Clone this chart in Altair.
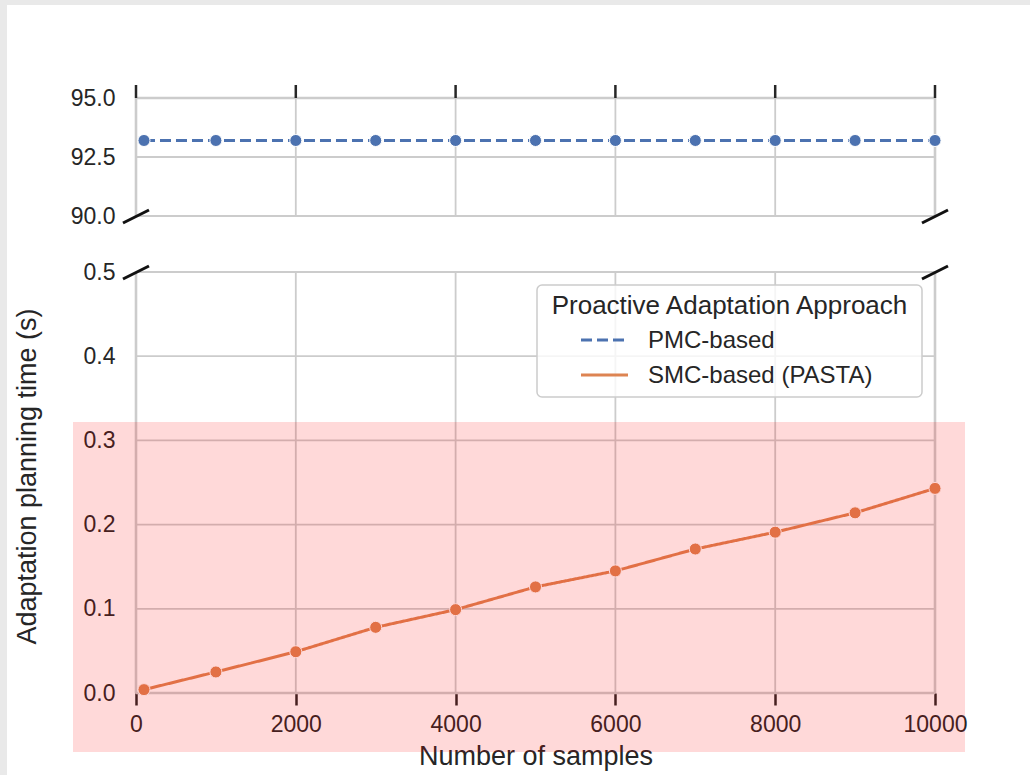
import altair as alt
import pandas as pd

# ---------------- data ----------------
samples = [100, 1000, 2000, 3000, 4000, 5000, 6000, 7000, 8000, 9000, 10000]
pmc_time = [93.2, 93.2, 93.2, 93.2, 93.2, 93.2, 93.2, 93.2, 93.2, 93.2, 93.2]
smc_time = [0.004, 0.025, 0.049, 0.078, 0.099, 0.126, 0.145, 0.171, 0.191, 0.214, 0.243]
series = ["PMC-based", "SMC-based (PASTA)"]
colors = ["#4c72b0", "#dd8452"]
x_ticks = [0, 2000, 4000, 6000, 8000, 10000]
y_ticks_low = [0.0, 0.1, 0.2, 0.3, 0.4, 0.5]
y_ticks_high = [90.0, 92.5, 95.0]
legend_title = "Proactive Adaptation Approach"
x_title = "Number of samples"
y_title = "Adaptation planning time (s)"

# ---------------- layout ----------------
W, H = 799, 595
L, T = 136, 98
FONT = "Liberation Sans"
TXT = "#262626"
GRID = "#cccccc"

xs = alt.Scale(domain=[0, 10000], nice=False, zero=False)
ys = alt.Scale(domain=[0, 0.5, 90, 95], range=[595, 174, 118, 0], nice=False, zero=False)

x_axis = alt.Axis(values=x_ticks, format="d", title=x_title, grid=False, domain=False,
                  ticks=True, tickSize=12, tickWidth=2.5, tickColor=TXT,
                  labelFontSize=23, labelColor=TXT, labelFont=FONT, labelPadding=8,
                  labelFlush=False, labelOverlap=False,
                  titleFontSize=27, titleFont=FONT, titleColor=TXT, titleFontWeight="normal",
                  titleY=71, titleBaseline="alphabetic")
y_axis = alt.Axis(values=y_ticks_low + y_ticks_high, format=".1f", title=y_title,
                  grid=False, domain=False, ticks=False,
                  labelFontSize=23, labelColor=TXT, labelFont=FONT, labelPadding=21,
                  labelOverlap=False, labelFlush=False,
                  titleFontSize=27, titleFont=FONT, titleColor=TXT, titleFontWeight="normal",
                  titleX=-101, titleY=378, titleBaseline="alphabetic", titleAlign="center",
                  titleAngle=270)


def X(field="x"):
    return alt.X(f"{field}:Q", scale=xs, axis=x_axis)


def Y(field="y"):
    return alt.Y(f"{field}:Q", scale=ys, axis=y_axis)


rows = []
for s, vals in zip(series, [pmc_time, smc_time]):
    for xv, yv in zip(samples, vals):
        rows.append({"x": xv, "y": yv, "series": s})
df = pd.DataFrame(rows)

one = pd.DataFrame({"k": [0]})

# gray page edges
edge_left = alt.Chart(one).mark_rect(color="#e9e9e9").encode(
    x=alt.value(-L), x2=alt.value(-L + 7), y=alt.value(-T), y2=alt.value(H + 82))
edge_top = alt.Chart(one).mark_rect(color="#e9e9e9").encode(
    x=alt.value(-L), x2=alt.value(W + 95), y=alt.value(-T), y2=alt.value(-T + 5))

# gridlines
grid_h_df = pd.DataFrame({"y": y_ticks_low + y_ticks_high})
grid_h_df["x"] = 0
grid_h_df["x2"] = 10000
grid_h = alt.Chart(grid_h_df).mark_rule(color=GRID, strokeWidth=1.8).encode(
    x=X(), x2="x2:Q", y=Y())

panels = [(0.0, 0.5), (90.0, 95.0)]
gv = []
for xv in x_ticks:
    for lo, hi in panels:
        gv.append({"x": xv, "y": lo, "y2": hi})
grid_v = alt.Chart(pd.DataFrame(gv)).mark_rule(color=GRID, strokeWidth=1.8).encode(
    x=X(), y=Y(), y2="y2:Q")

# spines (slightly heavier)
sv = []
for xv in [0, 10000]:
    for lo, hi in panels:
        sv.append({"x": xv, "y": lo, "y2": hi})
spine_v = alt.Chart(pd.DataFrame(sv)).mark_rule(color=GRID, strokeWidth=2.6).encode(
    x=X(), y=Y(), y2="y2:Q")
spine_h = alt.Chart(pd.DataFrame({"y": [0.0, 95.0], "x": [0, 0], "x2": [10000, 10000]})).mark_rule(
    color=GRID, strokeWidth=2.6).encode(x=X(), x2="x2:Q", y=Y())

# ticks on the top of the upper panel
top_ticks = alt.Chart(pd.DataFrame({"x": x_ticks, "y": [95.0] * len(x_ticks)})).mark_rule(
    color=TXT, strokeWidth=2.5, y2Offset=-13).encode(x=X(), y=Y(), y2="y:Q")

# axis-break marks
brk = alt.Chart(pd.DataFrame({"x": [0, 0, 10000, 10000], "y": [90.0, 0.5, 90.0, 0.5]})).mark_rule(
    color="#111111", strokeWidth=3, xOffset=-13, x2Offset=13, yOffset=7, y2Offset=-6).encode(
    x=X(), x2="x:Q", y=Y(), y2="y:Q")

color_scale = alt.Scale(domain=series, range=colors)
dash_scale = alt.Scale(domain=series, range=[[11, 5], [1, 0]])

lines = alt.Chart(df).mark_line(strokeWidth=3).encode(
    x=X(), y=Y(),
    color=alt.Color("series:N", scale=color_scale, legend=None),
    strokeDash=alt.StrokeDash("series:N", scale=dash_scale, legend=None),
)

points = alt.Chart(df).mark_point(filled=True, size=145, stroke="white", strokeWidth=1,
                                  opacity=1).encode(
    x=X(), y=Y(),
    color=alt.Color("series:N", scale=color_scale, legend=None),
)

# legend (drawn by hand to match the box layout)
leg_box = alt.Chart(one).mark_rect(fill="white", fillOpacity=0.8, stroke="#cccccc",
                                   strokeWidth=1.5, cornerRadius=5).encode(
    x=alt.value(401), x2=alt.value(786), y=alt.value(187), y2=alt.value(299))
leg_title = alt.Chart(one).mark_text(font=FONT, fontSize=26, color=TXT, align="center",
                                     baseline="alphabetic").encode(
    x=alt.value(593.5), y=alt.value(216), text=alt.value(legend_title))
leg_l1 = alt.Chart(one).mark_rule(color=colors[0], strokeWidth=3, strokeDash=[11, 5]).encode(
    x=alt.value(445), x2=alt.value(492), y=alt.value(242))
leg_l2 = alt.Chart(one).mark_rule(color=colors[1], strokeWidth=3).encode(
    x=alt.value(445), x2=alt.value(492), y=alt.value(277))
leg_t1 = alt.Chart(one).mark_text(font=FONT, fontSize=24, color=TXT, align="left",
                                  baseline="alphabetic").encode(
    x=alt.value(512), y=alt.value(250), text=alt.value(series[0]))
leg_t2 = alt.Chart(one).mark_text(font=FONT, fontSize=24, color=TXT, align="left",
                                  baseline="alphabetic").encode(
    x=alt.value(512), y=alt.value(285), text=alt.value(series[1]))

# translucent pink highlight over the lower part
highlight = alt.Chart(one).mark_rect(color="#ff0000", opacity=0.15).encode(
    x=alt.value(73 - L), x2=alt.value(965 - L), y=alt.value(422 - T), y2=alt.value(752 - T))

chart = alt.layer(
    edge_left, edge_top, grid_h, grid_v, spine_v, spine_h, top_ticks, brk,
    lines, points, leg_box, leg_title, leg_l1, leg_l2, leg_t1, leg_t2, highlight
).properties(
    width=W, height=H,
    padding={"left": L, "top": T, "right": 95, "bottom": 82},
    autosize=alt.AutoSizeParams(type="none"),
    background="white",
).configure_view(stroke=None)

chart.save("out.html", embed_options={"renderer": "svg", "actions": False})
